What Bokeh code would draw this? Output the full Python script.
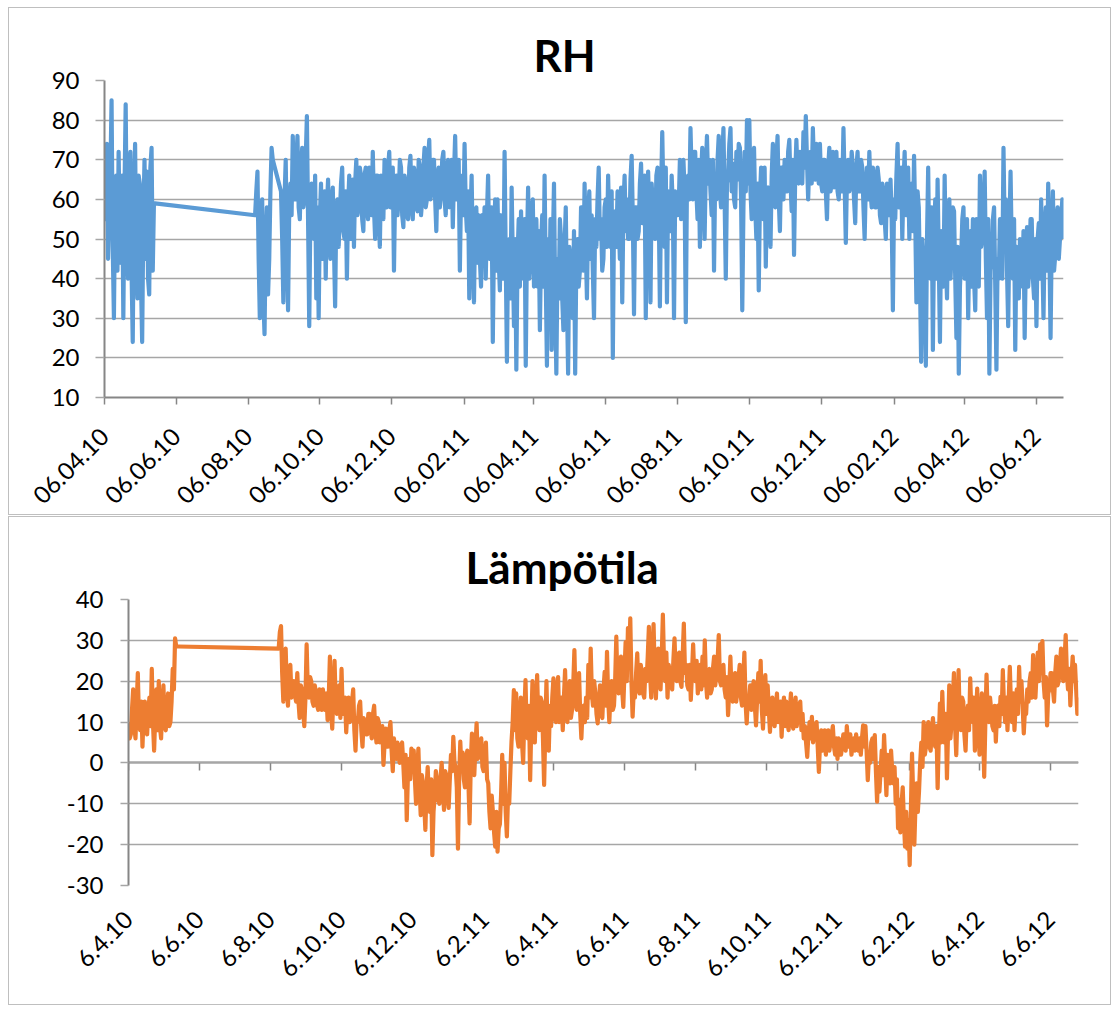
import math
import datetime as dt
import pandas as pd
from bokeh.plotting import figure
from bokeh.models import Range1d, FixedTicker, DatetimeAxis
from bokeh.layouts import column
from bokeh.embed import file_html
from bokeh.resources import INLINE

# ---------------- data ----------------
# Each "main" list holds a reading every 2 days; the matching "_mid" list holds
# the reading of the day in between (values of the dense daily band).

# RH (%)
rh_spring_2010 = [62, 74, 58, 85, 30, 66, 72, 44, 30, 84, 40, 72, 24, 74, 35, 64, 24, 70, 67, 36, 73, 59]
rh_spring_2010_mid = [55, 45, 66, 48, 60, 42, 50, 66, 62, 50, 66, 42, 60, 45, 66, 40, 55, 45, 40, 68, 42, 59]
rh_aug_2010 = [56, 67, 30, 60, 26, 58, 45, 73]
rh_aug_2010_mid = [62, 45, 55, 35, 50, 36, 62, 70]
rh_2010 = [62, 34, 70, 32, 64, 76, 60, 76, 55, 73, 60, 81, 28, 64, 50, 35,
           30, 64, 52, 40, 65, 45, 63, 33, 60, 56, 68, 50, 40, 66, 55,
           48, 70, 58, 66, 52, 68, 55, 64, 72, 50, 66, 48, 62, 70, 58,
           72, 60, 42, 66, 60, 68, 53, 64, 55, 71, 55, 66, 57, 68, 60, 73]
rh_2010_mid = [50, 60, 48, 58, 56, 62, 70, 58, 68, 58, 70, 55, 58, 52, 66, 58,
               55, 45, 62, 58, 50, 60, 48, 58, 48, 64, 52, 62, 58, 50, 65,
               64, 56, 68, 55, 66, 58, 68, 56, 58, 66, 56, 66, 55, 58, 68,
               58, 68, 62, 56, 70, 56, 66, 56, 68, 58, 68, 58, 70, 56, 68, 58]
rh_2011 = [60, 75, 62, 70, 52, 68, 62, 72, 56, 70, 60, 53, 76, 62, 42, 66,
           74, 52, 35, 66, 34, 58, 56, 38, 48, 40, 66, 50, 24, 60,
           60, 37, 55, 72, 19, 50, 63, 28, 17, 55, 57, 40, 18, 63, 45, 60,
           40, 38, 27, 56, 66, 18, 36, 22, 64, 16, 35, 50, 27, 58, 16,
           45, 30, 16, 50, 42, 58, 64, 35, 62, 56, 30, 48, 68, 55, 45, 60,
           66, 48, 20, 57, 62, 45, 34, 66, 60, 50, 71, 31, 58, 52, 69,
           55, 30, 67, 34, 58, 50, 68, 33, 77, 48, 34, 57, 66, 30, 60,
           58, 55, 70, 29, 66, 78, 60, 72, 55, 48, 73, 50, 76, 70, 56,
           42, 60, 76, 58, 78, 40, 66, 78, 69, 58, 65, 73, 32, 72, 80,
           80, 55, 73, 50, 37, 68, 55, 43, 63, 48, 74, 58, 76, 52, 68,
           70, 62, 75, 57, 46, 75, 64, 70, 77, 81, 60, 72, 78, 65, 72,
           74, 62, 70, 55, 73, 64, 63, 72, 60, 66, 78, 49, 70, 64, 68, 54]
rh_2011_mid = [70, 60, 70, 60, 66, 58, 70, 60, 68, 58, 70, 66, 60, 70, 62, 56,
               58, 62, 55, 46, 56, 44, 45, 56, 58, 56, 45, 58, 50, 42,
               45, 56, 40, 45, 48, 35, 45, 50, 45, 38, 42, 55, 48, 40, 58, 38,
               55, 52, 48, 38, 40, 50, 55, 48, 35, 45, 55, 35, 48, 35, 48,
               35, 52, 45, 38, 58, 42, 48, 56, 45, 42, 55, 60, 50, 42, 58, 48,
               52, 62, 55, 48, 54, 63, 58, 52, 50, 65, 55, 58, 50, 64, 54,
               66, 60, 56, 64, 54, 66, 58, 62, 60, 68, 62, 52, 58, 62, 56,
               70, 68, 62, 64, 60, 66, 72, 62, 70, 66, 62, 68, 64, 62, 70,
               66, 70, 62, 70, 60, 64, 74, 62, 60, 72, 74, 60, 58, 62, 64,
               62, 68, 58, 64, 60, 56, 68, 62, 55, 66, 60, 70, 60, 68, 60,
               64, 72, 64, 70, 66, 66, 72, 64, 68, 70, 70, 64, 68, 74, 64,
               64, 70, 62, 68, 62, 72, 70, 62, 70, 62, 64, 66, 62, 72, 60, 68]
rh_2012 = [72, 62, 68, 50, 68, 72, 58, 66, 58, 65, 54, 62, 50, 60, 65,
           32, 55, 74, 60, 50, 72, 60, 50, 64, 71, 34, 58, 19, 45,
           18, 68, 40, 22, 60, 65, 24, 50, 66, 35, 60, 48, 57, 25, 16, 45,
           58, 45, 30, 52, 55, 32, 50, 66, 50, 67, 30, 16, 45, 58, 17,
           40, 50, 73, 60, 28, 67, 40, 22, 45, 50, 38, 25, 53, 44, 55, 35,
           28, 54, 60, 30, 58, 64, 25, 62, 46, 58, 50, 60]
rh_2012_mid = [62, 70, 58, 64, 60, 62, 68, 58, 68, 56, 64, 55, 64, 56, 55,
               60, 66, 58, 68, 64, 56, 68, 62, 52, 55, 62, 40, 50, 38,
               50, 42, 58, 50, 40, 45, 52, 38, 45, 55, 40, 58, 40, 48, 38, 55,
               40, 55, 50, 38, 40, 55, 38, 48, 58, 45, 55, 42, 55, 38, 45,
               55, 40, 52, 42, 52, 48, 55, 48, 35, 40, 52, 45, 38, 55, 40, 50,
               50, 40, 45, 52, 42, 48, 50, 42, 55, 45, 55, 50]

# Lämpötila (°C)
t_spring_2010 = [10, 7, 18, 6, 22, 8, 4, 15, 7, 16, 23, 3, 18, 20, 6, 19, 8, 17, 10, 23, 30.5, 28.5]
t_spring_2010_mid = [6, 13, 9, 14, 10, 15, 12, 8, 13, 9, 10, 12, 8, 9, 14, 9, 13, 9, 15, 18, 28.5, 28.5]
t_2010 = [28, 33.5, 15, 28, 14, 24, 16.5, 16.5, 22, 11, 18, 9,
          29, 16, 20, 14, 17, 13, 16, 18, 13, 10.5, 26, 8.4, 25, 12, 19,
          23, 13, 7.5, 16, 11, 18, 3, 10, 15, 4, 10, 7, 12, 6, 14, 5,
          10, 6, -0.5, 8.4, 4, 10, -2, 3, 5, 0, 5, -6, -14, 1, 3.5,
          3, -10, 3.5, -12.8, -5, -16.4, -1, -12, -22.6, -8, -4.2, -10, 0, -11.5, -3]
t_2010_mid = [32, 22, 26, 18, 22, 16, 20, 15, 15, 19, 13, 16,
              18, 21, 15, 19, 14, 18, 13, 14, 17, 16, 13, 17, 14, 17, 11,
              12, 16, 13, 10, 15, 8, 11, 14, 8, 11, 7, 12, 8, 12, 8, 11,
              5, 9, 5, 4, 8, 3, 6, 1, 2, 4, 0, 2, -3, -4, -2,
              -4, -2, -6, -3, -10, -6, -9, -4, -12, -2, -9, -4, -6, -2, -8]
t_2011 = [-11, 2, 6.4, -1, -21, 5.2, 2.5, -6, 3, -14.8, 7.2, -3, 9.7, 2, 6,
          -2, 5, -5, -16, -12, -20.5, -21.7, -15, 2, 0, -18, -10, 5.2, 17.8,
          17, 4, 16, 0, 20.3, 6, -4.2, 20, 5, 21.5, 8, 15, -5.4, 20, 3, 9,
          20.7, 10, 21, 12, 8, 22.7, 10, 20, 13, 27.6, 13, 22, 6, 14, 16,
          24, 28, 14, 17, 9.7, 19, 11, 22.3, 27.2, 10, 20, 14, 30.9, 17, 26,
          13.7, 29.6, 33, 35.4, 11.3, 16, 26.8, 17, 22, 16, 20, 33.3, 16, 34, 15.8,
          28, 18, 36.3, 20, 16, 22, 18, 30.5, 20, 27, 18.6, 34.1, 24, 18, 15.4, 29,
          20, 17, 24, 26, 30, 16, 23, 18, 26, 22, 31.3, 19, 24, 16, 11.7,
          26, 15, 22, 18, 24, 14, 27, 9.7, 15, 13, 20, 9.2, 22, 25, 8.4,
          21.5, 19, 7.6, 16, 9, 17, 11, 6.4, 16, 15, 8, 17, 8.4, 16, 12, 15,
          12, 9, 1.5, 10, 11.3, 7, 10, -2.2, 8, 5, 2, 8, 5, 9, 2,
          1, 5, 4, 7, 9, 4, 2, 6, 7, 3, 2, 9.2, 9, -4.2, 0, 6]
t_2011_mid = [-4, -2, 0, -6, -4, -2, -4, 1, -5, 0, -1, 4, 1, 4, -1,
              2, -4, -12, -8, -17, -12, -16, -8, -10, -12, -8, -2, 10, 8,
              6, 12, 5, 12, 8, 14, 10, 8, 14, 10, 16, 6, 8, 7, 14, 16,
              12, 18, 10, 16, 16, 12, 17, 11, 19, 15, 19, 12, 13, 10, 11,
              16, 17, 20, 12, 15, 12, 18, 14, 16, 17, 13, 20, 19, 23, 18,
              22, 20, 24, 20, 18, 22, 18, 24, 17, 23, 26, 22, 26, 22, 24,
              20, 26, 24, 27, 24, 19, 25, 22, 26, 20, 26, 22, 19, 24, 22, 21,
              25, 23, 18, 19, 20, 22, 17, 23, 19, 25, 20, 23, 18, 21, 18,
              17, 20, 15, 21, 16, 20, 15, 16, 19, 18, 14, 16, 15, 13, 16,
              12, 13, 14, 10, 14, 10, 15, 13, 9, 10, 13, 10, 13, 9, 14, 8,
              6, 5, 7, 6, 5, 9, 4, 5, 3, 8, 6, 3, 7, 4, 6,
              6, 2, 7, 3, 5, 7, 5, 3, 4, 6, 6, 4, 3, 2, 5, 1]
t_2012 = [6.8, -9.5, -7, 3, 6.8, -7.9, -2, 3, -5, -10, -16, -17, -6, -20.5, -21,
          -25, 2.3, -20, -5, -7, 5, 10, 4, 10, 3, 11, 4, -6.2, 14.5,
          17.4, 5, -3.8, 19, 10, 22, 1.9, 22.7, 8, 15, 3, 14, 20.7, 10, 3, 18.2,
          2, 17, -3.4, 21.6, 10, 13, 8, 5.2, 14, 16.2, 22.7, 10, 8, 23.5, 10,
          8, 18, 23.5, 20, 7.2, 12, 15, 22, 26.4, 16, 27, 29, 29.8, 16, 9.2, 18,
          22, 15, 26, 20, 28, 20, 31.3, 18, 14.1, 26, 24, 12]
t_2012_mid = [-2, -1, -2, -3, 0, 2, -5, -2, -1, -4, -9, -10, -14, -12, -14,
              -12, -8, -10, -12, 0, -1, 2, 8, 4, 8, 5, 9, 6, 5,
              9, 12, 8, 6, 15, 9, 12, 10, 16, 7, 12, 8, 12, 16, 12, 8,
              11, 8, 10, 12, 16, 9, 14, 12, 9, 12, 14, 16, 15, 14, 17,
              14, 12, 15, 14, 13, 18, 20, 16, 19, 22, 20, 22, 20, 21, 17, 22,
              18, 22, 19, 24, 22, 25, 22, 23, 21, 20, 18, 16]

segment_starts_rh = ["2010-04-06", "2010-08-12", "2010-09-03"]
segment_starts_t = ["2010-04-06", "2010-08-13"]

tick_dates = ["2010-04-06", "2010-06-06", "2010-08-06", "2010-10-06", "2010-12-06",
              "2011-02-06", "2011-04-06", "2011-06-06", "2011-08-06", "2011-10-06",
              "2011-12-06", "2012-02-06", "2012-04-06", "2012-06-06"]

rh_ticks = [10, 20, 30, 40, 50, 60, 70, 80, 90]
t_ticks = [-30, -20, -10, 0, 10, 20, 30, 40]


def daily(start, main, mid):
    vals = [v for pair in zip(main, mid) for v in pair]
    return list(pd.date_range(start, periods=len(vals), freq="D")), vals


def build(starts, parts):
    xs, ys = [], []
    for s, (main, mid) in zip(starts, parts):
        x, y = daily(s, main, mid)
        xs += x
        ys += y
    return xs, ys


rh_x, rh_y = build(segment_starts_rh, [
    (rh_spring_2010, rh_spring_2010_mid),
    (rh_aug_2010, rh_aug_2010_mid),
    (rh_2010 + rh_2011 + rh_2012, rh_2010_mid + rh_2011_mid + rh_2012_mid),
])
t_x, t_y = build(segment_starts_t, [
    (t_spring_2010, t_spring_2010_mid),
    (t_2010 + t_2011 + t_2012, t_2010_mid + t_2011_mid + t_2012_mid),
])

tick_ts = [pd.Timestamp(d) for d in tick_dates]
tick_ms = [int(t.value // 10**6) for t in tick_ts]
top_labels = {m: t.strftime("%d.%m.%y") for m, t in zip(tick_ms, tick_ts)}
bot_labels = {m: f"{t.day}.{t.month}.{t.strftime('%y')}" for m, t in zip(tick_ms, tick_ts)}

FONT = "Lato"
AXIS_C = "#868686"
GRID_C = "#A6A6A6"
LABEL_SIZE = "24px"
LINE_W = 4.2


def style_common(p, yticks):
    p.frame_align = False
    p.outline_line_color = None
    p.background_fill_color = "white"
    p.border_fill_color = "white"
    p.xgrid.grid_line_color = None
    p.ygrid.grid_line_color = GRID_C
    p.ygrid.grid_line_width = 1.5
    p.yaxis.ticker = FixedTicker(ticks=yticks)
    p.yaxis.major_label_overrides = {v: str(v) for v in yticks}
    p.yaxis.axis_line_color = AXIS_C
    p.yaxis.axis_line_width = 2
    p.yaxis.major_tick_line_color = GRID_C
    p.yaxis.major_tick_line_width = 1.5
    p.yaxis.major_tick_in = 0
    p.yaxis.minor_tick_line_color = None
    p.yaxis.major_label_text_font = FONT
    p.yaxis.major_label_text_font_size = LABEL_SIZE
    p.yaxis.major_label_text_color = "black"
    p.title.text_font = FONT
    p.title.text_font_style = "bold"
    p.title.text_font_size = "44px"
    p.title.text_color = "black"
    p.title.align = "left"
    p.title.standoff = 0
    p.styles = {"border": "1px solid #BFBFBF"}


# ---------------- top chart: RH ----------------
p1 = figure(width=1103, height=508, x_axis_type="datetime",
            x_range=Range1d(dt.datetime(2010, 4, 6), dt.datetime(2012, 6, 29)),
            y_range=Range1d(10, 90), output_backend="svg", toolbar_location=None,
            min_border_left=95, min_border_right=49, min_border_top=72, min_border_bottom=119,
            title="RH")
style_common(p1, rh_ticks)
p1.title.offset = 429
p1.yaxis.major_tick_out = 9
p1.yaxis.major_label_standoff = 16
p1.xaxis.ticker = FixedTicker(ticks=tick_ms)
p1.xaxis.major_label_overrides = top_labels
p1.xaxis.major_label_orientation = math.pi / 4
p1.xaxis.axis_line_color = AXIS_C
p1.xaxis.axis_line_width = 2
p1.xaxis.major_tick_line_color = AXIS_C
p1.xaxis.major_tick_line_width = 1.5
p1.xaxis.major_tick_out = 7
p1.xaxis.major_tick_in = 0
p1.xaxis.minor_tick_line_color = None
p1.xaxis.major_label_text_font = FONT
p1.xaxis.major_label_text_font_size = LABEL_SIZE
p1.xaxis.major_label_text_color = "black"
p1.xaxis.major_label_standoff = 28
p1.line(rh_x, rh_y, line_width=LINE_W, line_color="#5B9BD5", line_join="round")

# ---------------- bottom chart: Lämpötila ----------------
p2 = figure(width=1103, height=489, x_axis_type="datetime",
            x_range=Range1d(dt.datetime(2010, 4, 6), dt.datetime(2012, 6, 30)),
            y_range=Range1d(-30, 40), output_backend="svg", toolbar_location=None,
            min_border_left=119, min_border_right=34, min_border_top=82, min_border_bottom=121,
            title="Lämpötila")
style_common(p2, t_ticks)
p2.title.offset = 337
p2.title.standoff = 14
p2.yaxis.major_tick_out = 8
p2.yaxis.major_label_standoff = 17
p2.xaxis.ticker = FixedTicker(ticks=tick_ms)
p2.xaxis.major_label_overrides = bot_labels
p2.xaxis.major_label_orientation = math.pi / 4
p2.xaxis.axis_line_color = None
p2.xaxis.major_tick_line_color = None
p2.xaxis.major_tick_out = 0
p2.xaxis.minor_tick_line_color = None
p2.xaxis.major_label_text_font = FONT
p2.xaxis.major_label_text_font_size = LABEL_SIZE
p2.xaxis.major_label_text_color = "black"
p2.xaxis.major_label_standoff = 30

zero_axis = DatetimeAxis(fixed_location=0, ticker=FixedTicker(ticks=tick_ms),
                         major_label_overrides={m: "" for m in tick_ms},
                         major_label_text_font_size="0px",
                         axis_line_color=AXIS_C, axis_line_width=2,
                         major_tick_line_color=AXIS_C, major_tick_line_width=1.5,
                         major_tick_out=8, major_tick_in=0,
                         minor_tick_line_color=None, level="underlay")
p2.add_layout(zero_axis, "below")
p2.line(t_x, t_y, line_width=LINE_W, line_color="#ED7D31", line_join="round")

layout = column(p1, p2, spacing=1)
layout.styles = {"margin-left": "8px", "margin-top": "7px"}
open("out.html", "w").write(file_html(layout, INLINE))
